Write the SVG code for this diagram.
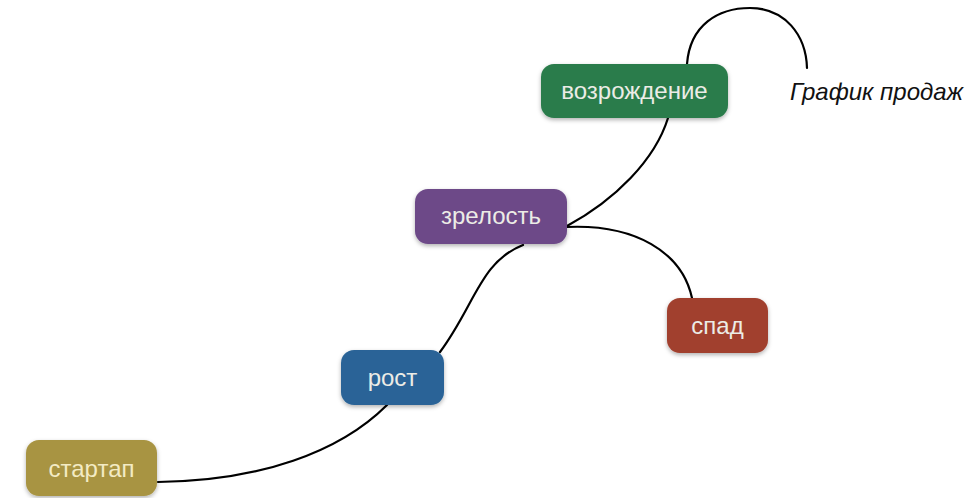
<svg xmlns="http://www.w3.org/2000/svg" width="978" height="498" viewBox="0 0 978 498">
<defs>
<filter id="sh" x="-20%" y="-20%" width="140%" height="150%">
<feDropShadow dx="0" dy="2" stdDeviation="2" flood-color="#000" flood-opacity="0.3"/>
</filter>
<style>
.n{filter:url(#sh)}
.t{font-family:"Liberation Sans",Arial,sans-serif;font-size:24px;fill:#ecece6;text-anchor:middle}
.c{fill:none;stroke:#000;stroke-width:2.2;stroke-linecap:round}
</style>
</defs>
<rect width="978" height="498" fill="#fff"/>
<g id="connectors">
<path class="c" d="M158,482 C260,481 340,452 387,405"/>
<path class="c" d="M440,352 C475,305 480,262 523,245"/>
<path class="c" d="M567,226 C615,200 655,160 668,118"/>
<path class="c" d="M567,227 C635,224 682,252 692,298"/>
<path class="c" d="M687,64 C690,25 718,8 750,8 C785,8 806,35 807,68"/>
</g>
<g id="vozrozhdenie">
<rect class="n" x="541" y="64" width="187" height="54" rx="13" fill="#2a7b4b"/>
<text class="t" x="634.5" y="99">возрождение</text>
</g>
<g id="zrelost">
<rect class="n" x="415" y="189" width="152" height="55" rx="13" fill="#6d4a88"/>
<text class="t" x="491" y="224">зрелость</text>
</g>
<g id="spad">
<rect class="n" x="667" y="298" width="101" height="55" rx="13" fill="#a13f2e"/>
<text class="t" x="717.5" y="334">спад</text>
</g>
<g id="rost">
<rect class="n" x="341" y="350" width="103" height="55" rx="13" fill="#2a6497"/>
<text class="t" x="392.5" y="386">рост</text>
</g>
<g id="startap">
<rect class="n" x="26" y="440" width="131" height="56" rx="13" fill="#a89443"/>
<text class="t" x="91.5" y="477" style="fill:#f3ebc4">стартап</text>
</g>
<text x="790" y="100" font-family="'Liberation Sans',Arial,sans-serif" font-style="italic" font-size="24" fill="#111">График продаж</text>
</svg>
